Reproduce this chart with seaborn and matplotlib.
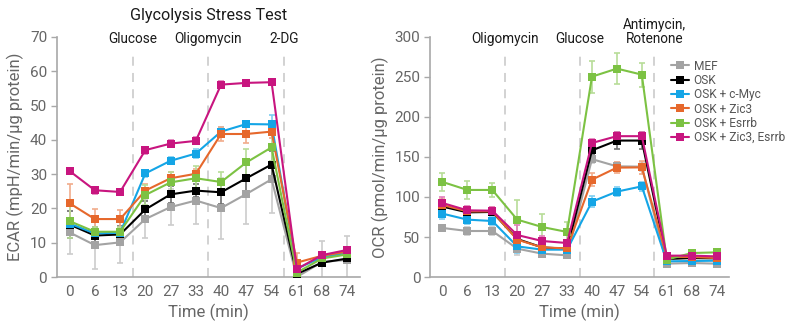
import numpy as np
import pandas as pd
import seaborn as sns
import matplotlib.pyplot as plt
from matplotlib.colors import to_rgb

# === Data ===
time_labels = ["0", "6", "13", "20", "27", "33", "40", "47", "54", "61", "68", "74"]
groups = ["MEF", "OSK", "OSK + c-Myc", "OSK + Zic3", "OSK + Esrrb", "OSK + Zic3, Esrrb"]
colors = ["#a3a3a3", "#000000", "#14a5e6", "#e6682c", "#7cc243", "#c8157f"]

ecar_mef = [13.0, 9.3, 10.1, 16.9, 20.4, 22.3, 20.1, 24.2, 28.5, 0.0, 4.4, 5.0]
ecar_osk = [15.3, 12.1, 12.4, 19.7, 24.1, 25.2, 24.7, 28.8, 32.8, 0.9, 4.2, 5.4]
ecar_myc = [15.6, 12.7, 12.9, 30.2, 33.9, 36.0, 42.4, 44.6, 44.5, 2.5, 5.7, 7.1]
ecar_zic3 = [21.5, 16.9, 16.9, 25.2, 28.8, 30.1, 41.7, 41.7, 42.4, 4.2, 6.2, 7.4]
ecar_esrrb = [16.3, 13.2, 13.2, 23.9, 27.6, 28.8, 27.7, 33.4, 37.8, 1.3, 5.4, 6.6]
ecar_zic3_esrrb = [30.9, 25.3, 24.8, 37.0, 38.9, 39.7, 56.1, 56.6, 56.8, 2.3, 6.4, 7.9]

ecar_err_mef = [6.3, 7.0, 6.0, 5.5, 5.2, 6.9, 8.9, 8.8, 9.7, 0.5, 6.2, 7.0]
ecar_err_osk = [4.0, 2.5, 2.5, 2.5, 2.5, 2.0, 3.5, 4.0, 4.0, 0.5, 1.0, 1.0]
ecar_err_myc = [1.0, 1.0, 1.0, 1.0, 1.0, 1.2, 1.3, 1.0, 2.7, 0.5, 0.8, 0.8]
ecar_err_zic3 = [5.5, 3.0, 2.7, 2.0, 1.8, 1.5, 2.0, 2.5, 2.0, 2.7, 1.0, 1.0]
ecar_err_esrrb = [5.0, 1.5, 1.5, 3.0, 3.0, 3.5, 3.0, 4.0, 4.0, 0.5, 1.0, 1.0]
ecar_err_zic3_esrrb = [1.0, 1.0, 1.0, 1.0, 1.0, 1.0, 1.0, 0.8, 0.8, 0.5, 0.8, 0.8]

ocr_mef = [61.3, 57.5, 57.5, 35.4, 29.2, 27.1, 147.3, 138.3, 137.9, 16.7, 17.5, 16.7]
ocr_osk = [88.0, 80.8, 81.3, 47.5, 37.0, 35.4, 158.3, 170.5, 170.5, 22.5, 23.7, 23.3]
ocr_myc = [79.2, 71.7, 70.0, 38.3, 34.2, 34.2, 94.2, 106.7, 113.3, 19.6, 20.0, 20.4]
ocr_zic3 = [90.0, 82.0, 82.0, 46.7, 37.0, 35.8, 121.7, 136.7, 137.0, 25.0, 25.0, 23.7]
ocr_esrrb = [118.8, 108.8, 108.8, 71.7, 62.5, 56.3, 250.4, 260.4, 252.9, 21.7, 30.0, 30.8]
ocr_zic3_esrrb = [92.5, 83.3, 82.9, 52.5, 45.0, 42.5, 167.5, 176.0, 176.0, 26.7, 26.7, 25.8]

ocr_err_mef = [4, 5, 5, 8, 4, 3, 5, 6, 6, 2, 2, 2]
ocr_err_osk = [6, 5, 4, 5, 3, 3, 5, 11, 11, 2, 2, 2]
ocr_err_myc = [7, 5, 5, 8, 4, 4, 7, 6, 6, 2, 2, 2]
ocr_err_zic3 = [8, 6, 5, 6, 3, 3, 8, 7, 8, 2, 2, 2]
ocr_err_esrrb = [11, 11, 9, 24, 16, 12, 20, 19, 15, 2, 2, 2]
ocr_err_zic3_esrrb = [8, 6, 4, 12, 6, 4, 5, 5, 5, 2, 2, 2]

ecar_vals = [ecar_mef, ecar_osk, ecar_myc, ecar_zic3, ecar_esrrb, ecar_zic3_esrrb]
ecar_errs = [ecar_err_mef, ecar_err_osk, ecar_err_myc, ecar_err_zic3, ecar_err_esrrb, ecar_err_zic3_esrrb]
ocr_vals = [ocr_mef, ocr_osk, ocr_myc, ocr_zic3, ocr_esrrb, ocr_zic3_esrrb]
ocr_errs = [ocr_err_mef, ocr_err_osk, ocr_err_myc, ocr_err_zic3, ocr_err_esrrb, ocr_err_zic3_esrrb]

ecar_marks = ["Glucose", "Oligomycin", "2-DG"]
ocr_marks = ["Oligomycin", "Glucose", "Antimycin,\nRotenone"]


def long_df(vals, errs):
    rows = []
    for g, v, e in zip(groups, vals, errs):
        for i, (y, s) in enumerate(zip(v, e)):
            rows.append({"pos": i, "value": y, "err": s, "group": g})
    return pd.DataFrame(rows)


def lighten(c, amt=0.45):
    r, g, b = to_rgb(c)
    return (r + (1 - r) * amt, g + (1 - g) * amt, b + (1 - b) * amt)


# === Plot ===
sns.set_theme(style="white")
plt.rcParams["font.family"] = ["Roboto", "DejaVu Sans"]
grey = "#a8a8a8"
txt = "#666666"

fig = plt.figure(figsize=(7.89, 3.24), dpi=100)
ax1 = fig.add_axes([0.0722, 0.145, 0.3840, 0.741])
ax2 = fig.add_axes([0.5450, 0.145, 0.3790, 0.741])


def draw(ax, df, ymax, ystep, ylabel, marks, legend):
    for g, c in zip(groups, colors):
        sub = df[df["group"] == g]
        ax.errorbar(sub["pos"], sub["value"], yerr=sub["err"], fmt="none",
                    ecolor=lighten(c), elinewidth=1.2, capsize=2.5, capthick=1.2, zorder=1)
    sns.lineplot(data=df, x="pos", y="value", hue="group", hue_order=groups,
                 palette=colors, marker="s", markersize=5.5, markeredgewidth=0,
                 linewidth=1.5, errorbar=None, legend=legend, ax=ax, zorder=3)
    for xv, lab in zip([2.5, 5.5, 8.5], marks):
        ax.axvline(xv, ymin=0, ymax=0.93, color="#cfcfcf", lw=1.3, ls=(0, (5, 4)), zorder=0)
        ax.text(xv, 0.962, lab, ha="center", va="bottom", fontsize=9.8,
                color="#1a1a1a", linespacing=1.05,
                transform=ax.get_xaxis_transform())
    ax.set_xlim(-0.5, 11.5)
    ax.set_ylim(0, ymax)
    ax.set_xticks(range(len(time_labels)))
    ax.set_xticklabels(time_labels)
    ax.set_xticks(np.arange(-0.5, 12, 1), minor=True)
    ax.set_yticks(np.arange(0, ymax + 1, ystep))
    ax.tick_params(axis="x", which="major", length=0, pad=6, labelsize=11, labelcolor=txt)
    ax.tick_params(axis="x", which="minor", length=4, width=1, color=grey, direction="out")
    ax.tick_params(axis="y", length=4, width=1, color=grey, direction="out",
                   labelsize=11, labelcolor=txt, left=True, pad=3)
    for s in ["top", "right"]:
        ax.spines[s].set_visible(False)
    for s in ["left", "bottom"]:
        ax.spines[s].set_color(grey)
        ax.spines[s].set_linewidth(1.2)
    ax.set_xlabel("Time (min)", fontsize=12, color=txt, labelpad=3)
    ax.set_ylabel(ylabel, fontsize=12, color=txt, labelpad=4)


draw(ax1, long_df(ecar_vals, ecar_errs), 70, 10, "ECAR (mpH/min/µg protein)", ecar_marks, False)
draw(ax2, long_df(ocr_vals, ocr_errs), 300, 50, "OCR (pmol/min/µg protein)", ocr_marks, True)

ax1.set_title("Glycolysis Stress Test", fontsize=11.6, color="#1a1a1a", pad=12)

handles, labels = ax2.get_legend_handles_labels()
ax2.legend(handles, labels, loc="upper left", bbox_to_anchor=(0.851, 0.816),
           bbox_transform=fig.transFigure, frameon=False, fontsize=8.6,
           handlelength=1.5, handletextpad=0.35, labelspacing=0.11,
           borderpad=0, borderaxespad=0, labelcolor="#555555")

fig.savefig("out.png", dpi=100)
